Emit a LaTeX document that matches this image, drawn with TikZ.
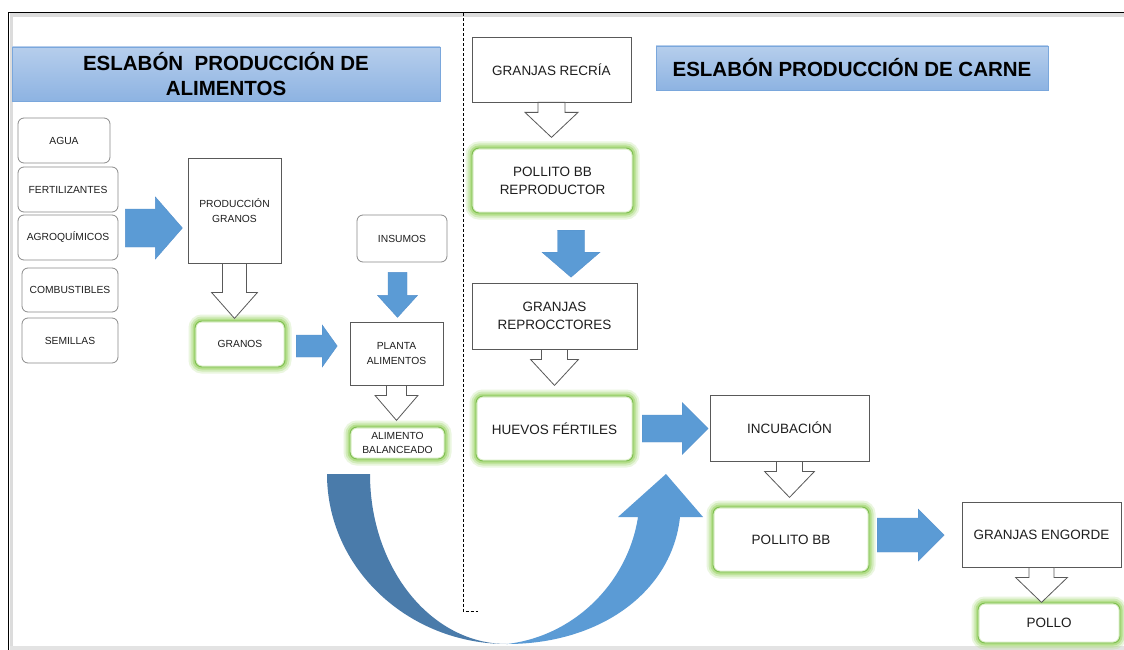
\documentclass[tikz,border=0pt]{standalone}
\usepackage{fontspec}
\setmainfont{Liberation Sans}
\usetikzlibrary{calc}
\definecolor{hdrtop}{HTML}{B6CEEC}
\definecolor{hdrbot}{HTML}{8DB3E2}
\definecolor{hdredge}{HTML}{7AA7DC}
\definecolor{arrowblue}{HTML}{5B9BD5}
\definecolor{arrowedge}{HTML}{5590CC}
\definecolor{darkblue}{HTML}{4A7BAA}
\definecolor{glowc}{HTML}{ADDC80}
\definecolor{glowedge}{HTML}{7DBE4F}
\definecolor{boxedge}{HTML}{595959}
\definecolor{roundedge}{HTML}{8A8A8A}
\definecolor{framegray}{HTML}{DCDCDC}
\definecolor{txt}{HTML}{1E1E1E}
\newcommand\smallf{\fontsize{10.3}{14.5}\selectfont}
\newcommand\bigf{\fontsize{13.5}{18}\selectfont}
\newcommand\hdrf{\bfseries\fontsize{20.5}{25}\selectfont}
% hollow down arrow: anchor, shaft half, head half, shaft length, head length
\newcommand\hdown[5]{\draw[hollow] ($(#1)+(-#2,0)$) -- ++(0,#4) -- ++(#2-#3,0) -- ++(#3,#5) -- ++(#3,-#5) -- ++(#2-#3,0) -- ++(0,-#4) -- cycle;}
% blue right arrow: tail centre, shaft half, head half, shaft length, head length
\newcommand\bright[5]{\draw[blockarrow] ($(#1)+(0,-#2)$) -- ++(#4,0) -- ++(0,#2-#3) -- ++(#5,#3) -- ++(-#5,#3) -- ++(0,#2-#3) -- ++(-#4,0) -- cycle;}
% blue down arrow
\newcommand\bdown[5]{\draw[blockarrow] ($(#1)+(-#2,0)$) -- ++(0,#4) -- ++(#2-#3,0) -- ++(#3,#5) -- ++(#3,-#5) -- ++(#2-#3,0) -- ++(0,-#4) -- cycle;}
\begin{document}
\begin{tikzpicture}[x=1pt,y=-1pt,
  plainbox/.style={draw=boxedge, fill=white, line width=0.8pt, inner sep=0pt, align=center, text=txt},
  inbox/.style={draw=roundedge, fill=white, rounded corners=6, line width=0.8pt, inner sep=0pt, align=center, font=\smallf, text=txt},
  glowbox/.style={rounded corners=7, fill=white, inner sep=0pt, align=center, text=txt,
    preaction={draw=glowc, line width=13pt, opacity=0.25},
    preaction={draw=glowc, line width=9pt, opacity=0.4},
    preaction={draw=glowc, line width=5pt, opacity=0.75},
    postaction={draw=glowc, line width=3pt, opacity=0.45},
    postaction={draw=glowedge, line width=0.9pt}},
  header/.style={draw=hdredge, line width=0.8pt, top color=hdrtop, bottom color=hdrbot, inner sep=0pt, align=center, font=\hdrf},
  hollow/.style={draw=boxedge, fill=white, line width=0.8pt, line join=miter},
  blockarrow/.style={fill=arrowblue, draw=arrowedge, line width=0.4pt, line join=miter}]
\useasboundingbox (0,0) rectangle (1124,650);
\fill[white] (0,0) rectangle (1124,650);
% frame
\fill[framegray] (9.5,13) rectangle (1124,17.5);
\fill[framegray] (9.5,13) rectangle (13,650);
\fill[framegray!80] (9.5,645.5) rectangle (1124,650);
\draw[black, line width=1.6pt] (8.5,650) -- (8.5,12.5) -- (1124,12.5);
% dashed divider
\draw[dash pattern=on 3pt off 2pt, line width=0.6pt] (463,13.5) -- (463,611) -- (478,611);

% headers
\node[header, minimum width=428, minimum height=54] (h1) at (226,74) {ESLABÓN\ \ PRODUCCIÓN DE\\ALIMENTOS};
\node[header, minimum width=392, minimum height=44] (h2) at (852,68) {ESLABÓN PRODUCCIÓN DE CARNE};

% inputs
\node[inbox, minimum width=92, minimum height=45] (agua) at (64,140.5) {AGUA};
\node[inbox, minimum width=100, minimum height=45] (fert) at (68,189.5) {FERTILIZANTES};
\node[inbox, minimum width=100, minimum height=45] (agro) at (68,237.5) {AGROQUÍMICOS};
\node[inbox, minimum width=96, minimum height=44] (comb) at (70,290) {COMBUSTIBLES};
\node[inbox, minimum width=96, minimum height=45] (sem) at (70,340.5) {SEMILLAS};

% food production
\node[plainbox, font=\smallf, minimum width=93, minimum height=105] (prod) at (234.5,210.5) {PRODUCCIÓN\\GRANOS};
\node[glowbox, font=\smallf, minimum width=90, minimum height=46] (granos) at (240,344) {GRANOS};
\node[inbox, minimum width=90, minimum height=47] (insumos) at (402,238.5) {INSUMOS};
\node[plainbox, font=\smallf, minimum width=93, minimum height=63] (planta) at (396.5,353.5) {PLANTA\\ALIMENTOS};
\node[glowbox, font=\smallf, minimum width=95, minimum height=32] (alim) at (397.5,443) {ALIMENTO\\BALANCEADO};

% meat production
\node[plainbox, font=\bigf, minimum width=159, minimum height=65] (recria) at (551.5,69.5) {GRANJAS RECRÍA};
\node[glowbox, font=\bigf, minimum width=161, minimum height=65] (pbbr) at (552.5,180.5) {POLLITO BB\\REPRODUCTOR};
\node[plainbox, font=\bigf, minimum width=165, minimum height=66] (reprod) at (554.5,316) {GRANJAS\\REPROCCTORES};
\node[glowbox, font=\bigf, minimum width=157, minimum height=65] (huevos) at (554.5,428.5) {HUEVOS FÉRTILES};
\node[plainbox, font=\bigf, minimum width=159, minimum height=66] (incub) at (789.5,428) {INCUBACIÓN};
\node[glowbox, font=\bigf, minimum width=156, minimum height=65] (pbb) at (791,539.5) {POLLITO BB};
\node[plainbox, font=\bigf, minimum width=159, minimum height=65] (engorde) at (1041.5,534.5) {GRANJAS ENGORDE};
\node[glowbox, font=\bigf, minimum width=142, minimum height=40] (pollo) at (1049,623) {POLLO};

% hollow arrows
\hdown{prod.south}{12}{23}{29}{26}
\hdown{planta.south}{10}{21.5}{10}{25}
\hdown{recria.south}{13.5}{26.5}{10}{25}
\hdown{reprod.south}{13}{24}{10}{26}
\hdown{incub.south}{13}{25}{10}{26}
\hdown{engorde.south}{12.5}{26}{10}{25}

% blue arrows
\coordinate (a1) at ($(agro.east)+(7,-9.5)$);
\coordinate (b1) at ($(granos.east)+(11,2)$);
\coordinate (c1) at ($(insumos.south)+(-4.5,10)$);
\coordinate (d1) at ($(pbbr.south)+(18.5,17)$);
\coordinate (e1) at ($(huevos.east)+(9,0)$);
\coordinate (f1) at ($(pbb.east)+(8,-4.5)$);
\bright{a1}{19}{31}{30}{27}
\bright{b1}{11}{21}{26}{15}
\bdown{c1}{9.5}{20}{23}{22}
\bdown{d1}{13.5}{29}{22}{25}
\bright{e1}{13.5}{26}{40}{26}
\bright{f1}{17}{26}{41}{26}

% curved arrow from feed to incubation
\coordinate (cvL) at (327,474);
\coordinate (cvR) at (370,474);
\coordinate (cvB) at (507,644);
\coordinate (cvO) at (680,517);
\coordinate (cvI) at (638,517);
\coordinate (cvHL) at (618,517);
\coordinate (cvHR) at (703,517);
\coordinate (cvT) at (666,474);
\fill[darkblue] (cvL) .. controls (327,568) and (408,644) .. (cvB)
  .. controls (431,644) and (370,568) .. (cvR) -- cycle;
\fill[arrowblue] (cvB) .. controls (600,644) and (672,592) .. (cvO)
  -- (cvHR) -- (cvT) -- (cvHL) -- (cvI)
  .. controls (628,582) and (575,636) .. (cvB) -- cycle;
\end{tikzpicture}
\end{document}
